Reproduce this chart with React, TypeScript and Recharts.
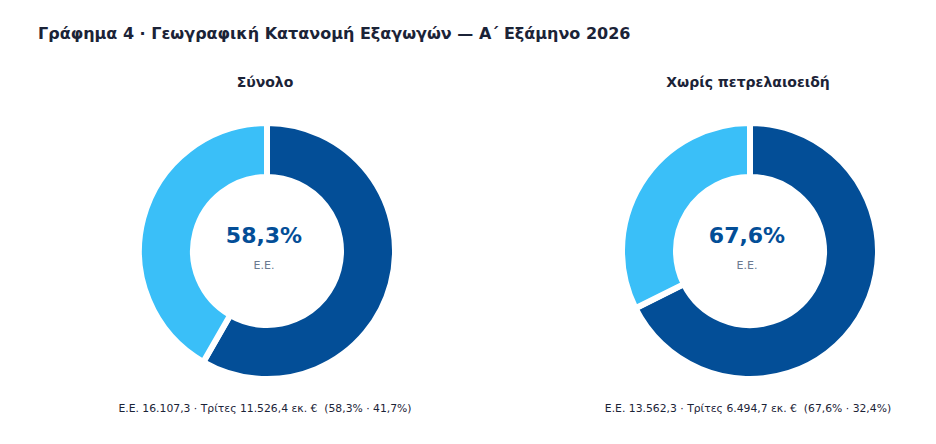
import React from 'react';
import { PieChart, Pie, Cell, Label } from 'recharts';

const panels = ['Σύνολο', 'Χωρίς πετρελαιοειδή'];
const segmentNames = ['Ε.Ε.', 'Τρίτες'];
const euValues = [16107.3, 13562.3];
const thirdValues = [11526.4, 6494.7];
const centerLabels = ['58,3%', '67,6%'];
const footnotes = [
  'Ε.Ε. 16.107,3 · Τρίτες 11.526,4 εκ. €  (58,3% · 41,7%)',
  'Ε.Ε. 13.562,3 · Τρίτες 6.494,7 εκ. €  (67,6% · 32,4%)',
];

const DARK = '#034E97';
const LIGHT = '#3ABFF8';
const FONT = '"DejaVu Sans", sans-serif';

const centersX = [267, 750];
const centerY = 251;
const SIZE = 300;

const Donut: React.FC<{ idx: number }> = ({ idx }) => {
  const data = [
    { name: segmentNames[0], value: euValues[idx] },
    { name: segmentNames[1], value: thirdValues[idx] },
  ];
  return (
    <div style={{ position: 'absolute', left: centersX[idx] - SIZE / 2, top: centerY - SIZE / 2 }}>
      <PieChart width={SIZE} height={SIZE}>
        <Pie
          data={data}
          dataKey="value"
          nameKey="name"
          cx="50%"
          cy="50%"
          startAngle={90}
          endAngle={-270}
          innerRadius={74}
          outerRadius={128}
          stroke="#ffffff"
          strokeWidth={6}
          isAnimationActive={false}
        >
          <Cell fill={DARK} />
          <Cell fill={LIGHT} />
          <Label
            position="center"
            content={() => (
              <g>
                <text x={SIZE / 2 - 3} y={SIZE / 2 - 8} textAnchor="middle" fontFamily={FONT} fontWeight="bold" fontSize={22} fill={DARK}>
                  {centerLabels[idx]}
                </text>
                <text x={SIZE / 2 - 3} y={SIZE / 2 + 18} textAnchor="middle" fontFamily={FONT} fontSize={11} fill="#6B7A90">
                  {segmentNames[0]}
                </text>
              </g>
            )}
          />
        </Pie>
      </PieChart>
    </div>
  );
};

export default function App() {
  return (
    <div style={{ position: 'fixed', left: 0, top: 0, width: 936, height: 444, background: '#ffffff', fontFamily: FONT, overflow: 'hidden' }}>
      <div style={{ position: 'absolute', left: 38, top: 24, fontSize: 16, fontWeight: 'bold', color: '#1B2337', whiteSpace: 'nowrap' }}>
        Γράφημα 4 · Γεωγραφική Κατανομή Εξαγωγών — Α΄ Εξάμηνο 2026
      </div>
      {panels.map((p, i) => (
        <React.Fragment key={p}>
          <div style={{ position: 'absolute', left: centersX[i] - 2 - 200, width: 400, top: 74, textAlign: 'center', fontSize: 14, fontWeight: 'bold', color: '#1B2337' }}>
            {p}
          </div>
          <Donut idx={i} />
          <div style={{ position: 'absolute', left: centersX[i] - 2 - 250, width: 500, top: 402, textAlign: 'center', fontSize: 10.8, color: '#1B2337', whiteSpace: 'pre' }}>
            {footnotes[i]}
          </div>
        </React.Fragment>
      ))}
    </div>
  );
}
